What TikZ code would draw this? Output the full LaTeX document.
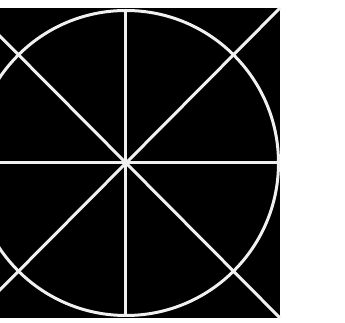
\documentclass[tikz,border=0pt]{standalone}
\begin{document}
\begin{tikzpicture}[x=1pt,y=1pt,
  wline/.style={draw=white!94!black,line width=3pt}]
\useasboundingbox (0,0) rectangle (345,323);
\clip (0,0) rectangle (345,323);
\coordinate (c) at (126,160);
\fill[black] (-28,5) rectangle (280,315);
\draw[wline] (c) circle[radius=152.5];
\draw[wline] (-28,5) -- (280,315);
\draw[wline] (-28,315) -- (280,5);
\draw[wline] (0,160) -- (280,160);
\draw[wline] (125.5,8) -- (125.5,312);
\end{tikzpicture}
\end{document}
